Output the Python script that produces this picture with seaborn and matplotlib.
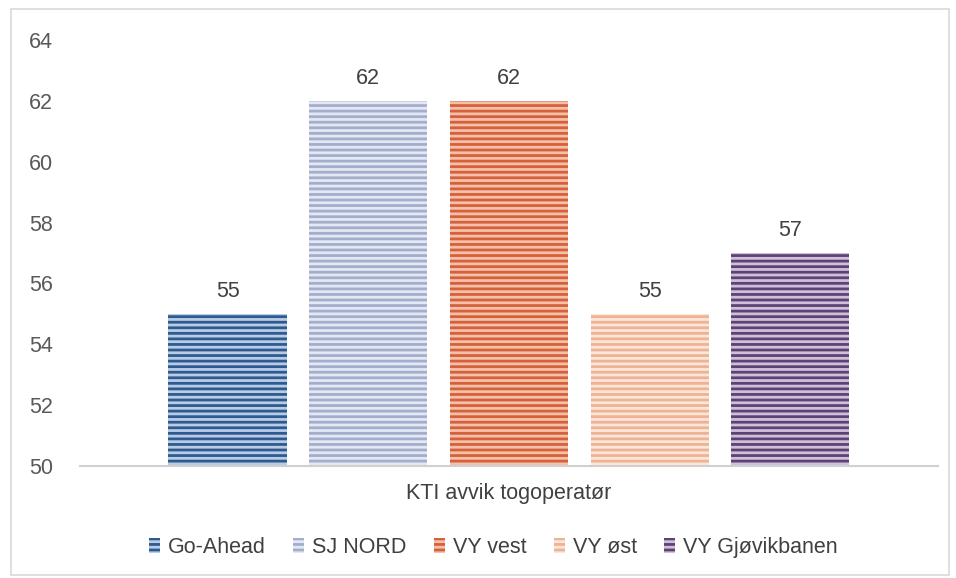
import pandas as pd
import seaborn as sns
import matplotlib.pyplot as plt
from matplotlib.patches import Rectangle

# Data
category = "KTI avvik togoperatør"
operators = ["Go-Ahead", "SJ NORD", "VY vest", "VY øst", "VY Gjøvikbanen"]
values = [55, 62, 62, 55, 57]
face_colors = ["#2F5A90", "#A3AECD", "#D5603A", "#EDB393", "#5E4275"]
stripe_colors = ["#B8CCE6", "#E3E8F3", "#F3C0AA", "#FBE6DA", "#CFC0DA"]
y_ticks = [50, 52, 54, 56, 58, 60, 62, 64]

df = pd.DataFrame({"kategori": [category] * len(operators),
                   "operator": operators,
                   "verdi": values})

sns.set_theme(style="white")
plt.rcParams['font.family'] = ['Liberation Sans', 'DejaVu Sans']
plt.rcParams['hatch.linewidth'] = 2.0

fig = plt.figure(figsize=(9.56, 5.78), dpi=100)
ax = fig.add_axes([0.0837, 0.1938, 0.8973, 0.737])

sns.barplot(data=df, x="kategori", y="verdi", hue="operator",
            hue_order=operators, palette=face_colors,
            width=0.82, gap=0.16, ax=ax, legend=False)

# Stripe look on bars
for bar, fc, sc in zip(ax.patches, face_colors, stripe_colors):
    bar.set_facecolor(fc)
    bar.set_edgecolor(sc)
    bar.set_hatch("---")
    bar.set_linewidth(0)
    ax.text(bar.get_x() + bar.get_width() / 2, bar.get_height() + 0.4,
            f"{bar.get_height():.0f}", ha="center", va="bottom",
            fontsize=15.5, color="#404040")

ax.set_ylim(50, 64)
ax.set_yticks(y_ticks)
ax.set_xlim(-0.5, 0.5)
ax.set_xticks([])
ax.set_ylabel("")
ax.set_xlabel(category, fontsize=15.5, color="#404040", labelpad=12)
ax.tick_params(axis="y", labelsize=15.5, labelcolor="#595959", length=0, pad=19.5)

for side in ["top", "right", "left"]:
    ax.spines[side].set_visible(False)
ax.spines["bottom"].set_color("#D0D0D0")
ax.spines["bottom"].set_linewidth(1.5)

# Legend
handles = [Rectangle((0, 0), 1, 1, facecolor=fc, edgecolor=sc, hatch="---", linewidth=0)
           for fc, sc in zip(face_colors, stripe_colors)]
fig.legend(handles, operators, loc="center", bbox_to_anchor=(0.516, 0.053),
           ncol=5, frameon=False, fontsize=15.5, handlelength=0.5, handleheight=0.7,
           handletextpad=0.37, columnspacing=1.28, labelcolor="#404040")

# Outer frame
fig.patches.append(Rectangle((0.011, 0.005), 0.982, 0.98, transform=fig.transFigure,
                             fill=False, edgecolor="#D9D9D9", linewidth=1.2))

fig.savefig("out.png", dpi=100)
